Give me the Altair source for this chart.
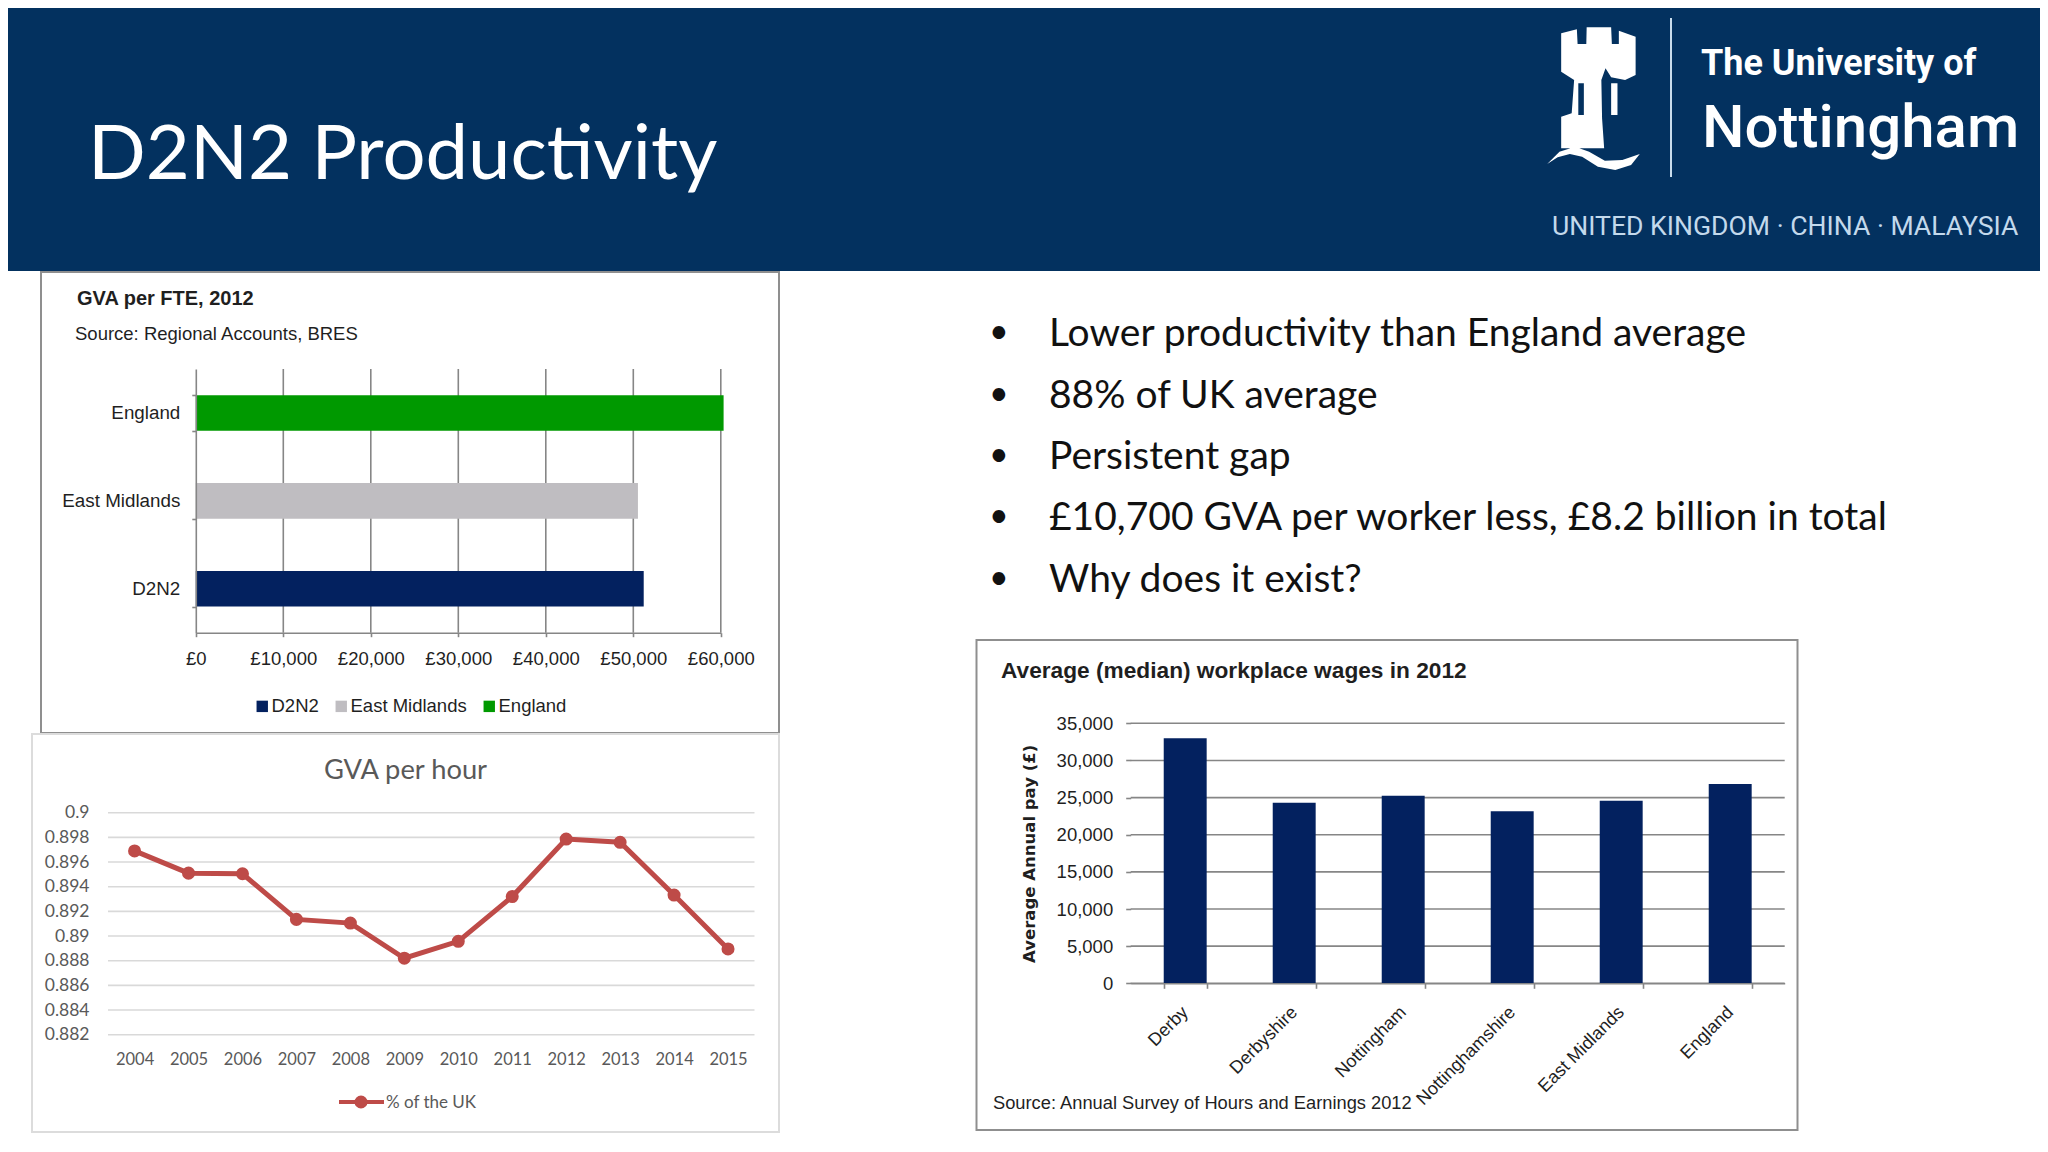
import altair as alt
import pandas as pd

W, H = 2032, 1128
OX, OY = 8, 8

# ---------- data ----------
fte_regions = ["England", "East Midlands", "D2N2"]
fte_values = [60320, 50530, 51190]
fte_legend_order = ["D2N2", "East Midlands", "England"]
fte_colors = ["#03215f", "#bfbdc1", "#009900"]
fte_ticks = [10000, 20000, 30000, 40000, 50000, 60000]
fte_axis_ticks = [0] + fte_ticks

years = ["2004", "2005", "2006", "2007", "2008", "2009", "2010", "2011", "2012", "2013", "2014", "2015"]
gva_hour = [0.8969, 0.8951, 0.89505, 0.89135, 0.89105, 0.8882, 0.88957, 0.8932, 0.89786, 0.8976, 0.89332, 0.88895]
hour_ticks = [0.882, 0.884, 0.886, 0.888, 0.89, 0.892, 0.894, 0.896, 0.898, 0.9]

wage_areas = ["Derby", "Derbyshire", "Nottingham", "Nottinghamshire", "East Midlands", "England"]
wage_values = [32980, 24320, 25260, 23150, 24590, 26830]
wage_ticks = [0, 5000, 10000, 15000, 20000, 25000, 30000, 35000]

bullets = [
    "Lower productivity than England average",
    "88% of UK average",
    "Persistent gap",
    "£10,700 GVA per worker less, £8.2 billion in total",
    "Why does it exist?",
]
bullet_baselines = [346, 408, 469, 530, 592]

# logo shapes, traced in a 3x zoom of the logo box
castle = [(175,100),(220,88),(222,132),(247,132),(248,82),(318,82),(320,132),(340,132),(340,92),(388,110),(388,225),
          (358,240),(318,232),(302,205),(290,240),(292,355),(298,445),(175,445),(175,350),(205,340),(212,240),(175,215)]
slit = [(224,250),(224,345),(240,345),(240,250)]
stripe = [(318,250),(336,250),(336,345),(318,345)]
wave = [(135,492),(170,455),(215,440),(255,455),(300,482),(350,480),(400,462),(375,495),(330,510),(280,500),(235,470),(200,462),(165,472)]

NAVY = "#03315f"
AXIS = "#868686"
ARIAL = "Liberation Sans"
CAL = "Lato"
LOGO = "Roboto"
DARK = "#1f1f1f"

one = pd.DataFrame({"a": [0]})


def sx(x):
    return x - OX


def sy(y):
    return y - OY


def off_bottom(y):
    return sy(y) - H


def off_left(x):
    return -sx(x)


def rect(x0, y0, x1, y1, fill, stroke=None, sw=0):
    kw = dict(fill=fill, strokeWidth=sw)
    if stroke:
        kw["stroke"] = stroke
    return alt.Chart(one).mark_rect(**kw).encode(
        x=alt.value(sx(x0)), x2=alt.value(sx(x1)), y=alt.value(sy(y0)), y2=alt.value(sy(y1)))


def text(label, x, y, size, font=ARIAL, color=DARK, weight="normal", align="left", baseline="alphabetic", angle=0):
    return alt.Chart(pd.DataFrame({"t": [label]})).mark_text(
        font=font, fontSize=size, color=color, fontWeight=weight, align=align, baseline=baseline, angle=angle
    ).encode(text="t:N", x=alt.value(sx(x)), y=alt.value(sy(y)))


def logo_path(polys):
    # unit square centred on the logo box
    cx, cy, half = 1593.5, 98.5, 72.0
    parts = []
    for poly in polys:
        pts = [(((1500 + px / 2.861) - cx) / half, ((py / 3) - cy) / half) for px, py in poly]
        parts.append("M" + "L".join(f"{a:.3f},{b:.3f}" for a, b in pts) + "Z")
    return "".join(parts)


layers = []

# ---------- header ----------
layers.append(rect(0, 0, 2048, 271, NAVY))
layers.append(text("D2N2 Productivity", 88, 179, 76, font=CAL, color="white"))
layers.append(alt.Chart(one).mark_point(
    shape=logo_path([castle, slit, stripe, wave]), filled=True, fill="white", opacity=1, strokeWidth=0, size=144 ** 2
).encode(x=alt.value(sx(1593.5)), y=alt.value(sy(98.5))))
layers.append(rect(1670, 18, 1672, 177, "#c9dcec"))
layers.append(text("The University of", 1701, 75, 36, font=LOGO, color="white", weight="bold"))
layers.append(text("Nottingham", 1702, 147, 60, font=LOGO, color="white", weight=500))
layers.append(text("UNITED KINGDOM · CHINA · MALAYSIA", 1552, 235, 26.6, font=LOGO, color="#c3d9ec"))

# ---------- chart 1: GVA per FTE ----------
layers.append(rect(41, 272, 779, 733, "white", "#8f8f8f", 2))
c1_x = alt.Scale(domain=[0, 60000], range=[sx(195.8), sx(720.8)], nice=False, zero=False)
c1_y = alt.Scale(domain=fte_regions, range=[sy(369), sy(632.7)], paddingInner=0.595, paddingOuter=0.2975)
layers.append(alt.Chart(pd.DataFrame({"v": fte_ticks})).mark_rule(color=AXIS, strokeWidth=1.6).encode(
    x=alt.X("v:Q", scale=c1_x, axis=None), y=alt.value(sy(369)), y2=alt.value(sy(632.7))))
layers.append(alt.Chart(pd.DataFrame({"r": fte_regions, "v": fte_values})).mark_bar().encode(
    x=alt.X("v:Q", scale=c1_x, axis=alt.Axis(
        orient="bottom", offset=off_bottom(632.7), values=fte_axis_ticks, title=None, grid=False,
        labelExpr="'£' + format(datum.value, ',')", labelFont=ARIAL, labelFontSize=18.5, labelColor=DARK,
        labelPadding=13, tickSize=4, tickColor=AXIS, tickWidth=1.6, domainColor=AXIS, domainWidth=1.6, zindex=1,
        labelOverlap=False, labelFlush=False)),
    y=alt.Y("r:N", scale=c1_y, axis=alt.Axis(
        orient="left", offset=off_left(195.8), title=None, grid=False, tickBand="extent", labelFont=ARIAL,
        labelFontSize=18.8, labelColor=DARK, labelPadding=12, tickSize=4, tickColor=AXIS, tickWidth=1.6,
        domainColor=AXIS, domainWidth=1.6, zindex=1)),
    color=alt.Color("r:N", scale=alt.Scale(domain=fte_legend_order, range=fte_colors), legend=alt.Legend(
        orient="none", legendX=sx(253), legendY=sy(697), direction="horizontal", title=None, symbolType="square",
        symbolSize=130, symbolStrokeWidth=0, labelFont=ARIAL, labelFontSize=18.5, labelColor=DARK, columnPadding=13,
        labelOffset=0, symbolOpacity=1, padding=0)),
))
layers.append(text("GVA per FTE, 2012", 77, 305, 20, weight="bold"))
layers.append(text("Source: Regional Accounts, BRES", 75, 340, 18.5))

# ---------- chart 2: GVA per hour ----------
layers.append(rect(32, 734, 779, 1132, "white", "#dcdcdc", 2))
c2_x = alt.Scale(type="point", domain=years, range=[sx(107.6), sx(755)], padding=0.5)
c2_y = alt.Scale(domain=[0.882, 0.9], range=[sy(1034.7), sy(812.7)], nice=False, zero=False)
layers.append(alt.Chart(pd.DataFrame({"v": hour_ticks})).mark_rule(color="#d9d9d9", strokeWidth=1.6).encode(
    y=alt.Y("v:Q", scale=c2_y, axis=alt.Axis(
        orient="left", offset=off_left(108), values=hour_ticks, title=None, grid=False, domain=False, ticks=False,
        format=".3~f", labelFont=CAL, labelFontSize=17.5, labelColor="#595959", labelPadding=19, zindex=1,
        labelOverlap=False)),
    x=alt.value(sx(108)), x2=alt.value(sx(754.5))))
hour_df = pd.DataFrame({"year": years, "v": gva_hour})
layers.append(alt.Chart(hour_df).mark_line(color="#be4b48", strokeWidth=5).encode(
    x=alt.X("year:O", sort=None, scale=c2_x, axis=alt.Axis(
        orient="bottom", offset=off_bottom(1034.7), title=None, grid=False, domain=False, ticks=False,
        labelAngle=0, labelFont=CAL, labelFontSize=16.5, labelColor="#595959", labelPadding=17, zindex=1)),
    y=alt.Y("v:Q", scale=c2_y, axis=None)))
layers.append(alt.Chart(hour_df).mark_point(filled=True, fill="#be4b48", opacity=1, strokeWidth=0, size=170).encode(
    x=alt.X("year:O", sort=None, scale=c2_x, axis=None), y=alt.Y("v:Q", scale=c2_y, axis=None)))
layers.append(text("GVA per hour", 405.5, 779, 27.3, font=CAL, color="#595959", align="center"))
layers.append(rect(339, 1100, 384, 1104, "#be4b48"))
layers.append(alt.Chart(one).mark_point(filled=True, fill="#be4b48", opacity=1, strokeWidth=0, size=170).encode(
    x=alt.value(sx(361)), y=alt.value(sy(1102))))
layers.append(text("% of the UK", 386, 1108, 17, font=CAL, color="#595959"))

# ---------- bullets ----------
for line, base in zip(bullets, bullet_baselines):
    layers.append(text("•", 989, base - 3, 34, font=CAL, color="#111111"))
    layers.append(text(line, 1049, base, 39, font=CAL, color="#111111"))

# ---------- chart 3: wages ----------
layers.append(rect(976.5, 640, 1797.5, 1130, "white", "#8f8f8f", 2))
c3_x = alt.Scale(domain=wage_areas, range=[sx(1130.7), sx(1784.7)], paddingInner=0.606, paddingOuter=0.303)
c3_y = alt.Scale(domain=[0, 35000], range=[sy(983.3), sy(723.3)], nice=False, zero=False)
layers.append(alt.Chart(pd.DataFrame({"v": wage_ticks})).mark_rule(color=AXIS, strokeWidth=1.6).encode(
    y=alt.Y("v:Q", scale=c3_y, axis=alt.Axis(
        orient="left", offset=off_left(1130.7), values=wage_ticks, title="Average Annual pay (£)", grid=False,
        domain=False, format=",.0f", labelFont=ARIAL, labelFontSize=18.5, labelColor=DARK, labelPadding=13,
        tickSize=5, tickColor=AXIS, tickWidth=1.6, titleFont="DejaVu Sans", titleFontSize=16.5, titleFontWeight="bold",
        titleColor=DARK, titlePadding=19, zindex=1, labelOverlap=False)),
    x=alt.value(sx(1130.7)), x2=alt.value(sx(1784.7))))
layers.append(alt.Chart(pd.DataFrame({"a": wage_areas, "v": wage_values})).mark_bar(color="#03215f").encode(
    x=alt.X("a:N", sort=None, scale=c3_x, axis=alt.Axis(
        orient="bottom", offset=off_bottom(983.3), title=None, grid=False, tickBand="extent", labelAngle=-45,
        labelAlign="right", labelBaseline="middle", labelFont=ARIAL, labelFontSize=18, labelColor=DARK,
        labelPadding=21, tickSize=5, tickColor=AXIS, tickWidth=1.6, domainColor=AXIS, domainWidth=1.6, zindex=1,
        labelOverlap=False)),
    y=alt.Y("v:Q", scale=c3_y, axis=None)))
layers.append(text("Average (median) workplace wages in 2012", 1001, 678, 22.7, weight="bold"))
layers.append(text("Source: Annual Survey of Hours and Earnings 2012", 993, 1109, 18.3))

chart = alt.layer(*layers).resolve_scale(x="independent", y="independent", color="independent").properties(
    width=W, height=H, padding=0, autosize="none", background="white"
).configure_view(stroke="transparent")

chart.save("out.html", embed_options={"renderer": "svg", "actions": False})
